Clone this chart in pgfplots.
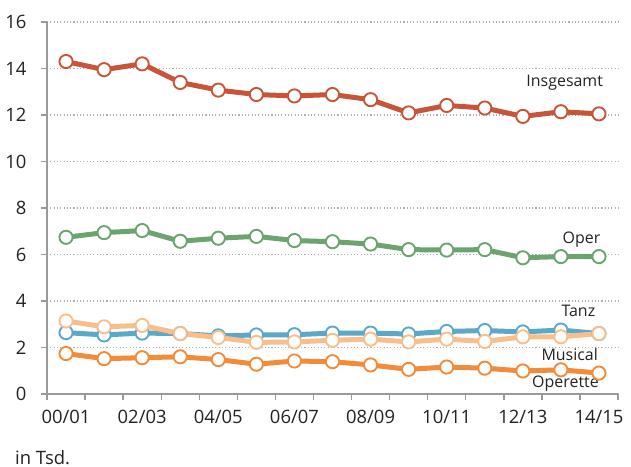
\documentclass[border=0pt]{standalone}
\usepackage{pgfplots}
\pgfplotsset{compat=1.18}
\usepackage{fontspec}
\setmainfont{Open Sans}
\definecolor{axisgray}{HTML}{9A9A9A}
\definecolor{gridgray}{HTML}{B0B0B0}
\definecolor{txt}{HTML}{222222}
\definecolor{cIns}{HTML}{C8553A}
\definecolor{cOper}{HTML}{6BA46E}
\definecolor{cTanz}{HTML}{5BA8C9}
\definecolor{cMus}{HTML}{F8BE8E}
\definecolor{cOpt}{HTML}{F28C3A}
\begin{document}
\begin{tikzpicture}
\useasboundingbox (0,0) rectangle (631bp,467bp);
\begin{axis}[
  at={(47bp,73bp)}, anchor=south west,
  scale only axis, width=571bp, height=372bp,
  xmin=-0.5, xmax=14.5, ymin=0, ymax=16,
  axis x line=bottom, axis y line=left,
  axis line style={-, draw=axisgray, line width=1.4bp},
  tick align=outside, major tick length=6bp, minor tick length=6bp,
  tick style={draw=axisgray, line width=1.4bp},
  ytick={0,2,...,16},
  xtick={0,2,...,14},
  xticklabels={00/01,02/03,04/05,06/07,08/09,10/11,12/13,14/15},
  major x tick style={draw=none},
  minor xtick={-0.5,0.5,...,14.5},
  minor x tick style={draw=axisgray, line width=1.4bp},
  xticklabel style={yshift=-7bp},
  yticklabel style={xshift=-11bp},
  ymajorgrids,
  grid style={draw=gridgray, line width=1.1bp, dash pattern=on 1.1bp off 2.2bp},
  /pgf/number format/assume math mode=true,
  ticklabel style={font=\fontsize{18.5}{21}\selectfont, text=txt},
  mark size=6.6bp,
  clip=false,
]
\addplot[cIns, line width=5bp, mark=*, mark options={solid, fill=white, line width=1.9bp}] coordinates {
(0,14.3) (1,13.95) (2,14.2) (3,13.4) (4,13.07) (5,12.88) (6,12.82) (7,12.88)
(8,12.66) (9,12.09) (10,12.41) (11,12.3) (12,11.94) (13,12.14) (14,12.05)};
\addplot[cOper, line width=5bp, mark=*, mark options={solid, fill=white, line width=1.9bp}] coordinates {
(0,6.74) (1,6.94) (2,7.03) (3,6.57) (4,6.7) (5,6.78) (6,6.6) (7,6.55)
(8,6.45) (9,6.21) (10,6.19) (11,6.21) (12,5.86) (13,5.91) (14,5.91)};
\addplot[cTanz, line width=5bp, mark=*, mark options={solid, fill=white, line width=1.9bp}] coordinates {
(0,2.64) (1,2.54) (2,2.62) (3,2.6) (4,2.5) (5,2.54) (6,2.55) (7,2.62)
(8,2.62) (9,2.58) (10,2.69) (11,2.73) (12,2.67) (13,2.75) (14,2.6)};
\addplot[cOpt, line width=5bp, mark=*, mark options={solid, fill=white, line width=1.9bp}] coordinates {
(0,1.74) (1,1.52) (2,1.56) (3,1.6) (4,1.48) (5,1.28) (6,1.42) (7,1.39)
(8,1.25) (9,1.06) (10,1.16) (11,1.11) (12,0.99) (13,1.04) (14,0.9)};
\addplot[cMus, line width=5bp, mark=*, mark options={solid, fill=white, line width=1.9bp}] coordinates {
(0,3.14) (1,2.89) (2,2.95) (3,2.6) (4,2.43) (5,2.22) (6,2.24) (7,2.31)
(8,2.36) (9,2.24) (10,2.36) (11,2.26) (12,2.46) (13,2.46) (14,2.6)};
\node[font=\fontsize{16}{18}\selectfont, text=txt] at (axis cs:13.1,13.38) {Insgesamt};
\node[font=\fontsize{16}{18}\selectfont, text=txt] at (axis cs:13.54,6.64) {Oper};
\node[font=\fontsize{16}{18}\selectfont, text=txt] at (axis cs:13.46,3.58) {Tanz};
\node[font=\fontsize{16}{18}\selectfont, text=txt] at (axis cs:13.23,1.68) {Musical};
\node[font=\fontsize{16}{18}\selectfont, text=txt] at (axis cs:13.12,0.43) {Operette};
\end{axis}
\node[anchor=base west, font=\fontsize{18.5}{21}\selectfont, text=txt, inner sep=0pt] at (15bp,3bp) {in Tsd.};
\end{tikzpicture}
\end{document}
